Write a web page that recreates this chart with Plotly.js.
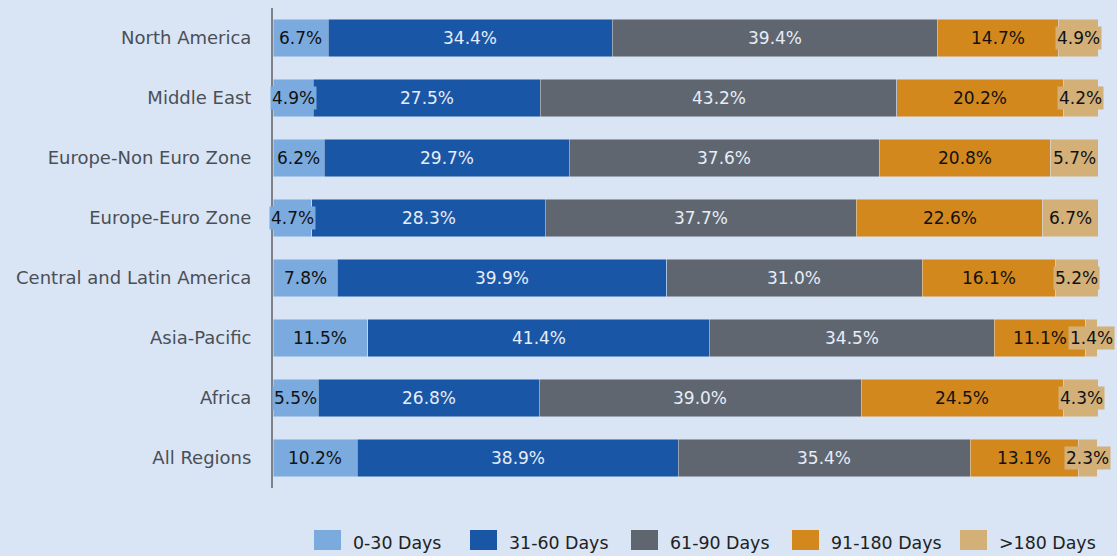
<!DOCTYPE html>
<html>
<head>
<meta charset="utf-8">
<script src="https://cdn.plot.ly/plotly-3.0.1.min.js"></script>
<style>html,body{margin:0;padding:0;background:#d9e5f5;}#chart{width:1117px;height:556px;}</style>
</head>
<body>
<div id="chart"></div>
<script>
const regions = ["North America", "Middle East", "Europe-Non Euro Zone", "Europe-Euro Zone", "Central and Latin America", "Asia-Pacific", "Africa", "All Regions"];
const seriesNames = ["0-30 Days", "31-60 Days", "61-90 Days", "91-180 Days", ">180 Days"];
const d0_30 = [6.7, 4.9, 6.2, 4.7, 7.8, 11.5, 5.5, 10.2];
const d31_60 = [34.4, 27.5, 29.7, 28.3, 39.9, 41.4, 26.8, 38.9];
const d61_90 = [39.4, 43.2, 37.6, 37.7, 31.0, 34.5, 39.0, 35.4];
const d91_180 = [14.7, 20.2, 20.8, 22.6, 16.1, 11.1, 24.5, 13.1];
const d180p = [4.9, 4.2, 5.7, 6.7, 5.2, 1.4, 4.3, 2.3];

const seriesValues = [d0_30, d31_60, d61_90, d91_180, d180p];
const colors = ["#7aaade", "#1a56a6", "#5f6670", "#d3881d", "#d4b079"];
const textColors = ["#111111", "#e6edf8", "#e6edf8", "#111111", "#111111"];
const FONT = "'DejaVu Sans', 'Noto Sans', sans-serif";

// plot-area geometry (pixels) used for the custom legend placement
const W = 1117, H = 556, ML = 273, MR = 19, MT = 8, MB = 68;
const PW = W - ML - MR, PH = H - MT - MB;
const px2x = p => (p - ML) / PW;
const px2y = p => (H - MB - p) / PH;
const legendSwatchX = [314, 470, 631, 792, 960];

const traces = seriesValues.map((vals, i) => ({
  type: "bar",
  orientation: "h",
  name: seriesNames[i],
  y: regions,
  x: vals,
  marker: {color: colors[i], line: {color: "rgba(217,229,245,0.6)", width: 0.8}},
  hoverinfo: "x+name"
}));

const annotations = [];
regions.forEach((r, j) => {
  let cum = 0;
  seriesValues.forEach((vals, i) => {
    const v = vals[j];
    annotations.push({
      x: cum + v / 2, y: r, xref: "x", yref: "y",
      text: v.toFixed(1) + "%", showarrow: false,
      font: {family: FONT, size: 17, color: textColors[i]},
      bgcolor: colors[i], borderpad: 1
    });
    cum += v;
  });
});

const shapes = [];
seriesNames.forEach((name, i) => {
  const sx = legendSwatchX[i];
  shapes.push({
    type: "rect", xref: "paper", yref: "paper",
    x0: px2x(sx), x1: px2x(sx + 27), y0: px2y(550), y1: px2y(530),
    fillcolor: colors[i], line: {width: 0}
  });
  annotations.push({
    xref: "paper", yref: "paper", x: px2x(sx + 37), y: px2y(543),
    xanchor: "left", yanchor: "middle", showarrow: false,
    text: name, font: {family: FONT, size: 17.4, color: "#222222"}
  });
});

const layout = {
  width: W, height: H,
  paper_bgcolor: "#d9e5f5", plot_bgcolor: "#d9e5f5",
  margin: {l: ML, r: MR, t: MT, b: MB, autoexpand: false},
  barmode: "stack",
  bargap: 0.38,
  font: {family: FONT, size: 18, color: "#4a4f57"},
  xaxis: {range: [0, 100], visible: false, fixedrange: true},
  yaxis: {
    autorange: "reversed", showline: true, linecolor: "#7d8188", linewidth: 2,
    ticks: "", ticklabelstandoff: 16, showgrid: false, zeroline: false,
    tickfont: {family: FONT, size: 18, color: "#4a4f57"}
  },
  showlegend: false,
  shapes: shapes,
  annotations: annotations
};

Plotly.newPlot("chart", traces, layout, {displayModeBar: false, staticPlot: true});
</script>
</body>
</html>
